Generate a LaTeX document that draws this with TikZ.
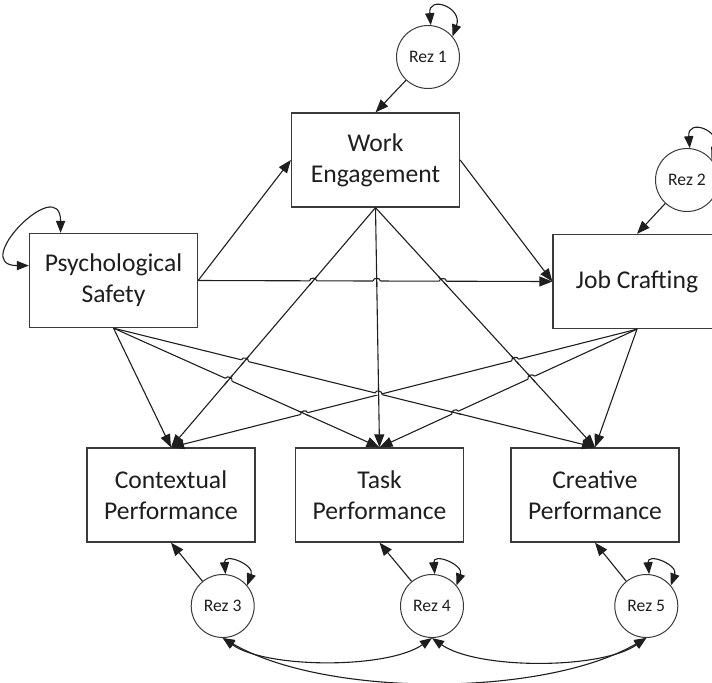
\documentclass[tikz,border=0pt]{standalone}
\usepackage{fontspec}
\setmainfont{Carlito}
\usetikzlibrary{arrows.meta,calc}
\definecolor{semInk}{HTML}{1E1E1E}
\definecolor{semEdge}{HTML}{3A3A3A}

\tikzset{
    construct/.style={draw=semEdge, line width=0.65pt, minimum width=84pt, minimum height=47pt, inner sep=0pt, align=center, text=semInk, font=\fontsize{12.8}{15.5}\selectfont},
    resid/.style={circle, draw=semEdge, line width=0.5pt, minimum size=31.5pt, inner sep=0pt, text=semInk, font=\fontsize{8.8}{10}\selectfont},
    effect/.style={draw=semInk, line width=0.55pt, arrows={-Triangle[length=6.5pt,width=5pt]}},
    covar/.style={draw=semInk, line width=0.55pt, arrows={Triangle[length=6pt,width=4.6pt]-Triangle[length=6pt,width=4.6pt]}}
}

% line #1--#2 jumps over line #3--#4
\newcommand\hop[4]{%
    \coordinate (x) at (intersection of #1--#2 and #3--#4);
    \draw[white, line width=1.3pt] ($(x)!1.8pt!(#1)$) -- ($(x)!1.8pt!(#2)$);
    \draw[semInk, line width=0.55pt] ($(x)!3pt!(#3)$) -- ($(x)!3pt!(#4)$);
    \draw[semInk, line width=0.55pt] ($(x)!1.8pt!(#1)$) to[bend left=90, looseness=1.3] ($(x)!1.8pt!(#2)$);
}

\begin{document}
\begin{tikzpicture}[x=0.5pt, y=0.5pt]
    \clip (0,0) rectangle (712,-682);
    % constructs
    \node[construct] (ps) at (113.5,-280.5) {Psychological\\Safety};
    \node[construct] (we) at (375.5,-160) {Work\\Engagement};
    \node[construct] (jc) at (637,-281.5) {Job Crafting};
    \node[construct] (ctx) at (171,-495) {Contextual\\Performance};
    \node[construct] (task) at (379.5,-495) {Task\\Performance};
    \node[construct] (cre) at (595,-495) {Creative\\Performance};
    % residuals
    \node[resid] (r1) at (428,-57) {Rez 1};
    \node[resid] (r2) at (687,-180) {Rez 2};
    \node[resid] (r3) at (222.7,-606) {Rez 3};
    \node[resid] (r4) at (432,-606) {Rez 4};
    \node[resid] (r5) at (646.3,-606) {Rez 5};

    \draw[effect] (ps.east) -- (we.west);
    \draw[effect] (we.east) -- (jc.west);
    \draw[effect] (ps.east) -- (jc.west);
    \foreach \s in {we,ps,jc} {
        \foreach \t in {ctx,task,cre} {
            \draw[effect] (\s.south) -- (\t.north);
        }
    }
    \foreach \a/\b/\c/\d in {ps.east/jc.west/we.south/ctx.north, ps.east/jc.west/we.south/task.north,
        ps.east/jc.west/we.south/cre.north, ps.south/task.north/we.south/ctx.north,
        ps.south/cre.north/we.south/ctx.north, ps.south/cre.north/we.south/task.north,
        ctx.north/jc.south/we.south/cre.north, ctx.north/jc.south/ps.south/task.north,
        task.north/jc.south/we.south/cre.north, task.north/jc.south/ps.south/cre.north} {
        \hop{\a}{\b}{\c}{\d}
    }

    % disturbances
    \draw[effect] (r1) -- (we.north);
    \draw[effect] (r2) -- (jc.north);
    \draw[effect] (r3) -- (ctx.south);
    \draw[effect] (r4) -- (task.south);
    \draw[effect] (r5) -- (cre.south);

    % variances
    \draw[covar] (ps.170) to[out=180, in=90, looseness=3.4] (ps.138);
    \draw[covar] (r1.85) to[out=95, in=70, looseness=3.2] (r1.40);
    \draw[covar] (r2.85) to[out=95, in=70, looseness=3.2] (r2.40);
    \foreach \r in {r3,r4,r5} {
        \draw[covar] (\r.85) to[out=95, in=70, looseness=2.3] (\r.40);
    }
    \draw[covar] (r3.south) to[out=-35, in=-145, looseness=0.66] (r4.south);
    \draw[covar] (r4.south) to[out=-35, in=-145, looseness=0.66] (r5.south);
    \draw[covar] (r3.south) to[out=-30, in=-150, looseness=0.72] (r5.south);
\end{tikzpicture}
\end{document}
